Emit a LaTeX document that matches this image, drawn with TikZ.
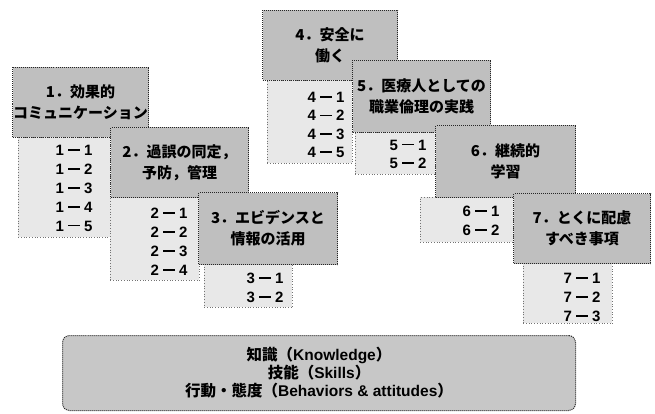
\documentclass[tikz,border=0pt]{standalone}
\usepackage{fontspec}
\setmainfont{Noto Sans CJK JP}
\newfontfamily\lat{Liberation Sans}
\newcommand{\dd}[2]{{\lat #1\hspace{4pt}\rule[4.6pt]{12pt}{1.5pt}\hspace{4pt}#2}}
\begin{document}
\begin{tikzpicture}[x=1pt,y=-1pt,
  hdr/.style={draw=black!85, densely dotted, line width=1pt, fill=black!25,
    anchor=north west, inner sep=0pt, align=center,
    font=\bfseries\fontsize{15}{21}\selectfont},
  lst/.style={draw=black!55, dotted, line width=0.7pt, fill=black!9,
    anchor=north west, inner sep=0pt},
  itm/.style={inner sep=0pt, font=\bfseries\fontsize{15}{19}\selectfont},
  base/.style={draw=black!85, densely dotted, line width=1pt, fill=black!22,
    rounded corners=7pt, anchor=north west, inner sep=0pt, align=center,
    font=\bfseries\fontsize{15.5}{18}\selectfont}]
\useasboundingbox (0,0) rectangle (655,414);
\fill[white] (0,0) rectangle (655,414);
% group 1
\node[lst, minimum width=92pt, minimum height=100pt] (l1) at (18,137) {};
\foreach \j [count=\i from 0] in {1,2,3,4,5}
  \node[itm] (t1-\i) at (74,150+19*\i) {\dd{1}{\j}};
\node[hdr, minimum width=136pt, minimum height=70pt] (h1) at (12,67) {1．効果的\\コミュニケーション};
% group 2
\node[lst, minimum width=89pt, minimum height=83pt] (l2) at (110,197) {};
\foreach \j [count=\i from 0] in {1,2,3,4}
  \node[itm] (t2-\i) at (169,213+19*\i) {\dd{2}{\j}};
\node[hdr, minimum width=138pt, minimum height=70pt] (h2) at (110,127) {2．過誤の同定，\\予防，管理};
% group 3
\node[lst, minimum width=88pt, minimum height=43pt] (l3) at (204,264) {};
\foreach \j [count=\i from 0] in {1,2}
  \node[itm] (t3-\i) at (265,278+19*\i) {\dd{3}{\j}};
\node[hdr, minimum width=139pt, minimum height=72pt] (h3) at (198,192) {3．エビデンスと\\情報の活用};
% group 4
\node[lst, minimum width=85pt, minimum height=83pt] (l4) at (267,80) {};
\foreach \j [count=\i from 0] in {1,2,3,5}
  \node[itm] (t4-\i) at (326,97+18.5*\i) {\dd{4}{\j}};
\node[hdr, minimum width=135pt, minimum height=70pt] (h4) at (262,10) {4．安全に\\働く};
% group 5
\node[lst, minimum width=80pt, minimum height=42pt] (l5) at (355,132) {};
\foreach \j [count=\i from 0] in {1,2}
  \node[itm] (t5-\i) at (408,145+18*\i) {\dd{5}{\j}};
\node[hdr, minimum width=138pt, minimum height=72pt] (h5) at (352,60) {5．医療人としての\\職業倫理の実践};
% group 6
\node[lst, minimum width=93pt, minimum height=45pt] (l6) at (420,197) {};
\foreach \j [count=\i from 0] in {1,2}
  \node[itm] (t6-\i) at (481,211+19*\i) {\dd{6}{\j}};
\node[hdr, minimum width=140pt, minimum height=72pt] (h6) at (435,125) {6．継続的\\学習};
% group 7
\node[lst, minimum width=89pt, minimum height=60pt] (l7) at (523,263) {};
\foreach \j [count=\i from 0] in {1,2,3}
  \node[itm] (t7-\i) at (582,278+19*\i) {\dd{7}{\j}};
\node[hdr, minimum width=137pt, minimum height=70pt] (h7) at (513,193) {7．とくに配慮\\すべき事項};
% base
\node[base, minimum width=513pt, minimum height=75pt] (b) at (62,335)
  {知識（{\lat Knowledge}）\\技能（{\lat Skills}）\\行動・態度（{\lat Behaviors \& attitudes}）};
\end{tikzpicture}
\end{document}
